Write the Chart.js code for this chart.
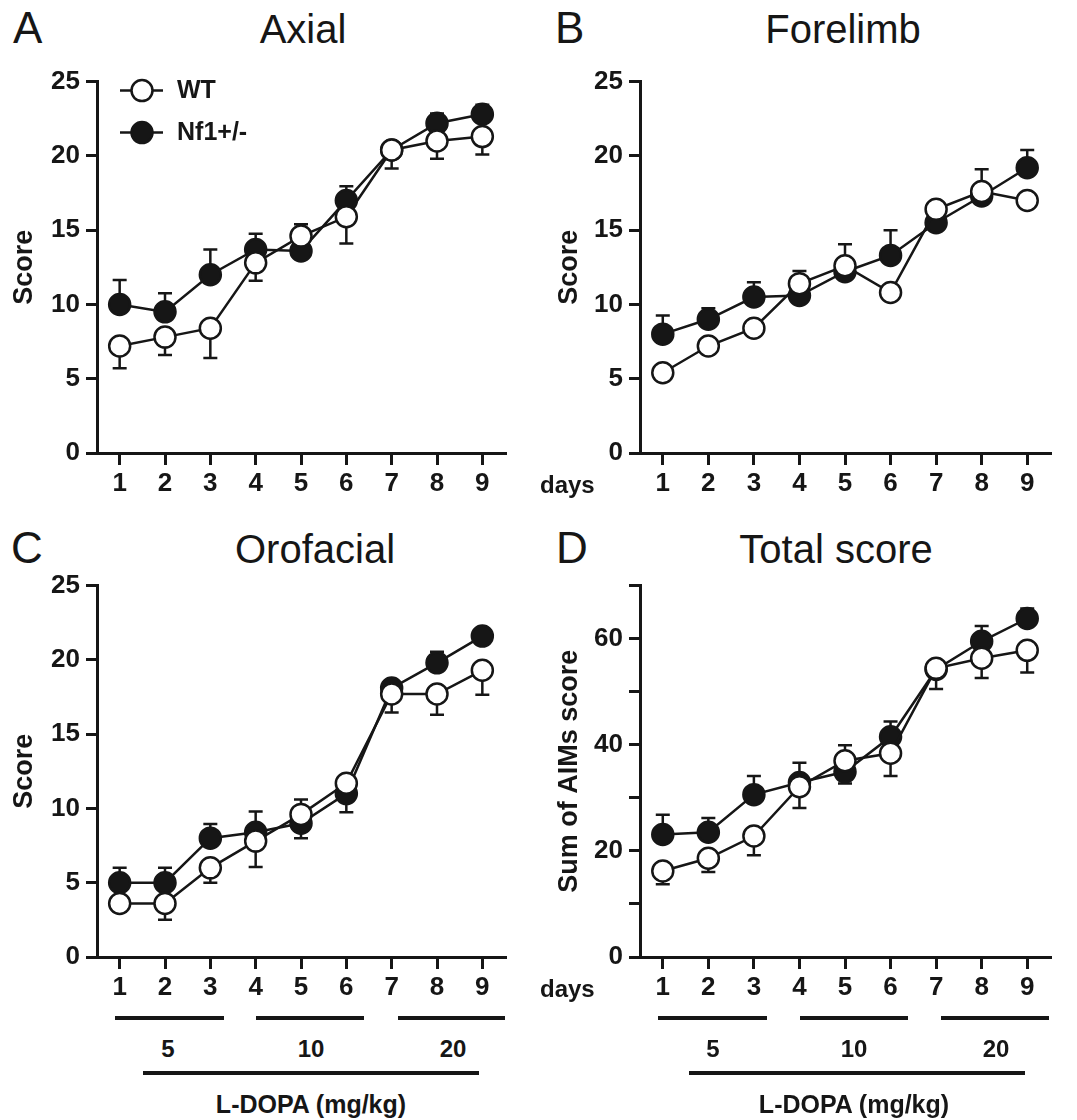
<!DOCTYPE html>
<html>
<head>
<meta charset="utf-8">
<script src="https://cdn.jsdelivr.net/npm/chart.js@4.4.0/dist/chart.umd.min.js"></script>
<style>
html,body{margin:0;padding:0;background:#fff;overflow:hidden}
body{width:1077px;height:1120px;position:relative;font-family:"Liberation Sans",Arial,Helvetica,sans-serif;color:#161616}
.cw{position:absolute}
.cw canvas{display:block}
.t{position:absolute;white-space:nowrap;line-height:1}
.ttl{font-size:40px;font-weight:normal;text-align:center;width:300px}
.let{font-size:44px;font-weight:normal}
.b{font-weight:bold}
.hl{position:absolute;background:#161616;height:3.5px}
</style>
</head>
<body>
<div class="t let" style="left:13px;top:6px">A</div>
<div class="t ttl" style="left:153px;top:9px">Axial</div>
<div class="t let" style="left:555px;top:6px">B</div>
<div class="t ttl" style="left:693px;top:9px">Forelimb</div>
<div class="t let" style="left:11px;top:526px">C</div>
<div class="t ttl" style="left:165px;top:529px">Orofacial</div>
<div class="t let" style="left:556px;top:526px">D</div>
<div class="t ttl" style="left:686px;top:529px">Total score</div>

<div class="cw" style="left:0;top:60px"><canvas id="cA" width="540" height="450"></canvas></div>
<div class="cw" style="left:540px;top:60px"><canvas id="cB" width="537" height="450"></canvas></div>
<div class="cw" style="left:0;top:564px"><canvas id="cC" width="540" height="450"></canvas></div>
<div class="cw" style="left:540px;top:564px"><canvas id="cD" width="537" height="450"></canvas></div>

<div class="t b" style="left:540px;top:473px;font-size:24px">days</div>
<div class="t b" style="left:540px;top:977px;font-size:24px">days</div>

<!-- dose annotations, left -->
<div class="hl" style="left:115px;width:109px;top:1016px"></div>
<div class="hl" style="left:256px;width:108px;top:1016px"></div>
<div class="hl" style="left:398px;width:107px;top:1016px"></div>
<div class="t b" style="left:118px;width:100px;text-align:center;top:1037px;font-size:24px">5</div>
<div class="t b" style="left:261px;width:100px;text-align:center;top:1037px;font-size:24px">10</div>
<div class="t b" style="left:403px;width:100px;text-align:center;top:1037px;font-size:24px">20</div>
<div class="hl" style="left:143px;width:336px;top:1071px;height:4px"></div>
<div class="t b" style="left:161px;width:300px;text-align:center;top:1092px;font-size:25px">L-DOPA (mg/kg)</div>
<!-- dose annotations, right -->
<div class="hl" style="left:658px;width:109px;top:1016px"></div>
<div class="hl" style="left:800px;width:108px;top:1016px"></div>
<div class="hl" style="left:941px;width:108px;top:1016px"></div>
<div class="t b" style="left:663px;width:100px;text-align:center;top:1037px;font-size:24px">5</div>
<div class="t b" style="left:804px;width:100px;text-align:center;top:1037px;font-size:24px">10</div>
<div class="t b" style="left:946px;width:100px;text-align:center;top:1037px;font-size:24px">20</div>
<div class="hl" style="left:689px;width:336px;top:1071px;height:4px"></div>
<div class="t b" style="left:704px;width:300px;text-align:center;top:1092px;font-size:25px">L-DOPA (mg/kg)</div>

<script>
// ---------- data ----------
const days = ['1','2','3','4','5','6','7','8','9'];
const seriesNames = ['WT', 'Nf1+/-'];

const axialWT      = [7.2, 7.8, 8.4, 12.8, 14.6, 15.9, 20.4, 21.0, 21.3];
const axialWTSem   = [1.5, 1.2, 2.0, 1.2, 0.6, 1.8, 1.25, 1.2, 1.2];
const axialNf1     = [10.0, 9.5, 12.0, 13.7, 13.6, 17.0, 20.4, 22.2, 22.8];
const axialNf1Sem  = [1.65, 1.25, 1.7, 1.05, 1.8, 0.95, 0.45, 0.65, 0.65];

const foreWT       = [5.4, 7.2, 8.4, 11.4, 12.6, 10.8, 16.4, 17.6, 17.0];
const foreWTSem    = [0.4, 0.4, 0.4, 0.5, 0.5, 0.4, 0.4, 0.5, 0.4];
const foreNf1      = [8.0, 9.0, 10.5, 10.6, 12.2, 13.3, 15.5, 17.3, 19.2];
const foreNf1Sem   = [1.25, 0.75, 1.0, 1.65, 1.85, 1.7, 0.4, 1.8, 1.2];

const oroWT        = [3.6, 3.6, 6.0, 7.8, 9.6, 11.7, 17.7, 17.7, 19.3];
const oroWTSem     = [0.55, 1.1, 1.0, 1.75, 1.6, 1.95, 1.25, 1.4, 1.65];
const oroNf1       = [5.0, 5.0, 8.0, 8.4, 9.0, 11.0, 18.1, 19.8, 21.6];
const oroNf1Sem    = [1.0, 1.0, 0.95, 1.4, 1.6, 0.5, 0.4, 0.75, 0.45];

const totalWT      = [16.2, 18.6, 22.8, 32.1, 37.0, 38.4, 54.4, 56.3, 57.8];
const totalWTSem   = [2.5, 2.6, 3.6, 4.0, 4.3, 4.3, 3.9, 3.7, 4.2];
const totalNf1     = [23.1, 23.5, 30.6, 32.9, 34.9, 41.5, 54.2, 59.5, 63.8];
const totalNf1Sem  = [3.7, 2.7, 3.5, 3.7, 5.0, 2.9, 0.8, 2.9, 1.9];

const scoreTickValues = [0, 5, 10, 15, 20, 25];
const scoreTickLabels = ['0', '5', '10', '15', '20', '25'];
const totalTickValues = [0, 10, 20, 30, 40, 50, 60, 70];
const totalTickLabels = ['0', '', '20', '', '40', '', '60', ''];

// ---------- styling ----------
const INK = '#161616';
const FONT = '"Liberation Sans", Arial, Helvetica, sans-serif';

const errorBars = {
  id: 'errorBars',
  beforeDatasetsDraw(chart) {
    const ctx = chart.ctx, ys = chart.scales.y;
    chart.data.datasets.forEach((ds, i) => {
      if (!ds.errors) return;
      const meta = chart.getDatasetMeta(i);
      ctx.save();
      ctx.strokeStyle = INK;
      ctx.lineWidth = 2.5;
      meta.data.forEach((pt, j) => {
        const yEnd = ys.getPixelForValue(ds.data[j] + ds.errorDir * ds.errors[j]);
        ctx.beginPath();
        ctx.moveTo(pt.x, pt.y);
        ctx.lineTo(pt.x, yEnd);
        ctx.moveTo(pt.x - 7, yEnd);
        ctx.lineTo(pt.x + 7, yEnd);
        ctx.stroke();
      });
      ctx.restore();
    });
  }
};

const lineLegend = {
  id: 'lineLegend',
  afterDraw(chart, args, opts) {
    if (!opts || !opts.show) return;
    const ctx = chart.ctx, a = chart.chartArea;
    ctx.save();
    chart.data.datasets.forEach((ds, i) => {
      const yy = a.top + 9 + i * 42;
      ctx.strokeStyle = INK;
      ctx.lineWidth = 2.5;
      ctx.beginPath();
      ctx.moveTo(a.left + 23, yy);
      ctx.lineTo(a.left + 66, yy);
      ctx.stroke();
      ctx.beginPath();
      ctx.arc(a.left + 45, yy, 10.5, 0, Math.PI * 2);
      ctx.fillStyle = ds.pointBackgroundColor;
      ctx.fill();
      ctx.stroke();
      ctx.fillStyle = INK;
      ctx.font = 'bold 25px ' + FONT;
      ctx.textBaseline = 'middle';
      ctx.textAlign = 'left';
      ctx.fillText(ds.label, a.left + 80, yy + 1);
    });
    ctx.restore();
  }
};

function makePanel(id, p) {
  const tickFont = { family: FONT, size: 26, weight: 'bold' };
  return new Chart(document.getElementById(id), {
    type: 'line',
    data: {
      labels: days,
      datasets: [
        { label: seriesNames[0], data: p.wt, errors: p.wtSem, errorDir: -1,
          borderColor: INK, borderWidth: 2.5, pointBackgroundColor: '#ffffff',
          pointBorderColor: INK, pointBorderWidth: 2.5, pointRadius: 10.5, tension: 0 },
        { label: seriesNames[1], data: p.nf, errors: p.nfSem, errorDir: 1,
          borderColor: INK, borderWidth: 2.5, pointBackgroundColor: INK,
          pointBorderColor: INK, pointBorderWidth: 2.5, pointRadius: 10.5, tension: 0 }
      ]
    },
    options: {
      responsive: false,
      animation: false,
      devicePixelRatio: 1,
      layout: { padding: { left: 5, right: p.padRight, top: 16, bottom: 7 } },
      plugins: {
        legend: { display: false },
        tooltip: { enabled: false },
        title: { display: false },
        lineLegend: { show: !!p.legend }
      },
      scales: {
        x: {
          type: 'category',
          offset: true,
          grid: { display: true, drawOnChartArea: false, drawTicks: true, tickLength: 12, color: INK, lineWidth: 3, offset: false },
          border: { display: true, color: INK, width: 3 },
          ticks: { color: INK, font: tickFont, padding: 3, maxRotation: 0, autoSkip: false },
          afterFit(s) { s.height = 50; }
        },
        y: {
          type: 'linear',
          min: 0,
          max: p.yMax,
          grid: { display: true, drawOnChartArea: false, drawTicks: true, tickLength: 11, color: INK, lineWidth: 3 },
          border: { display: true, color: INK, width: 3 },
          afterBuildTicks(s) { s.ticks = p.tickValues.map(v => ({ value: v })); },
          ticks: {
            color: INK, font: tickFont, padding: 6,
            callback(v) { const k = p.tickValues.indexOf(v); return k >= 0 ? p.tickLabels[k] : ''; }
          },
          title: { display: true, text: p.yTitle, color: INK,
                   font: { family: FONT, size: 27, weight: 'bold' },
                   padding: { top: p.titlePad, bottom: 0 } },
          afterFit(s) { s.width = p.yWidth; }
        }
      }
    },
    plugins: [errorBars, lineLegend]
  });
}

makePanel('cA', { wt: axialWT, wtSem: axialWTSem, nf: axialNf1, nfSem: axialNf1Sem,
  yMax: 25, tickValues: scoreTickValues, tickLabels: scoreTickLabels, yTitle: 'Score',
  yWidth: 92, titlePad: 3.8, padRight: 35, legend: true });
makePanel('cB', { wt: foreWT, wtSem: foreWTSem, nf: foreNf1, nfSem: foreNf1Sem,
  yMax: 25, tickValues: scoreTickValues, tickLabels: scoreTickLabels, yTitle: 'Score',
  yWidth: 95, titlePad: 8.8, padRight: 27 });
makePanel('cC', { wt: oroWT, wtSem: oroWTSem, nf: oroNf1, nfSem: oroNf1Sem,
  yMax: 25, tickValues: scoreTickValues, tickLabels: scoreTickLabels, yTitle: 'Score',
  yWidth: 92, titlePad: 3.8, padRight: 35 });
makePanel('cD', { wt: totalWT, wtSem: totalWTSem, nf: totalNf1, nfSem: totalNf1Sem,
  yMax: 70, tickValues: totalTickValues, tickLabels: totalTickLabels, yTitle: 'Sum of AIMs score',
  yWidth: 95, titlePad: 8.8, padRight: 27 });
</script>
</body>
</html>
